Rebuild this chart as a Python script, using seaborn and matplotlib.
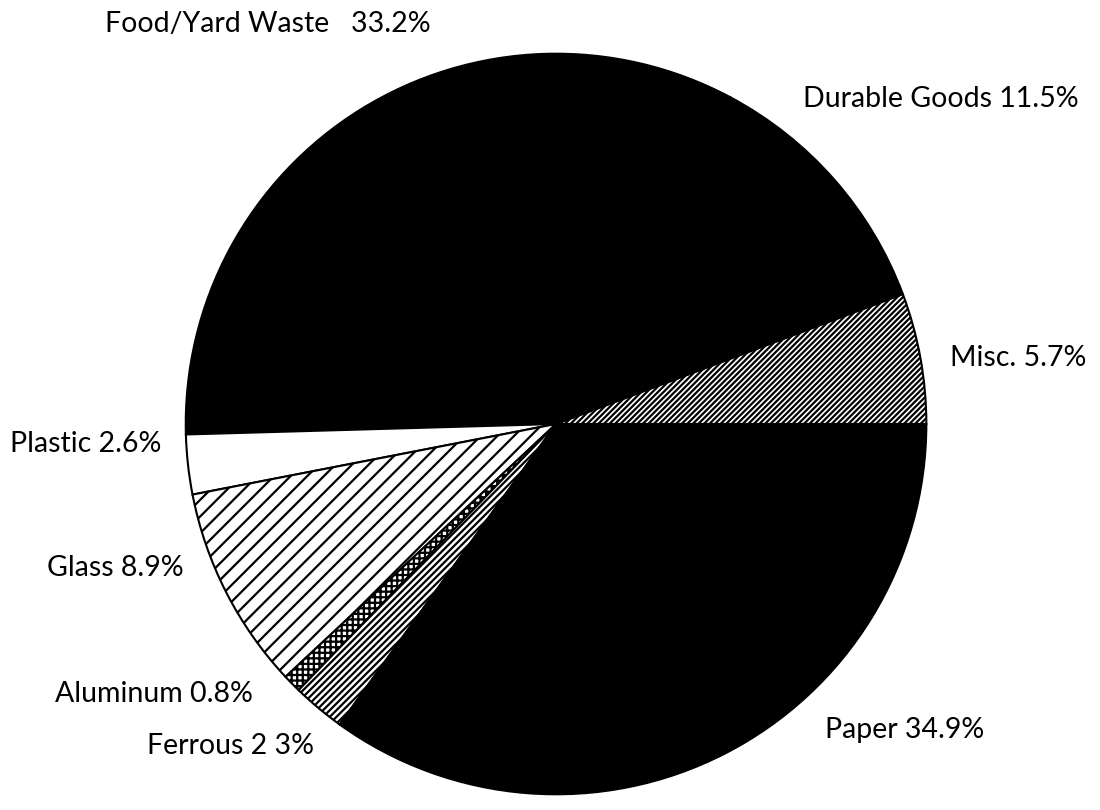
import matplotlib.pyplot as plt
import seaborn as sns

# municipal solid waste composition, counterclockwise from 3 o'clock
categories = ['Misc.', 'Durable Goods', 'Food/Yard Waste', 'Plastic', 'Glass',
              'Aluminum', 'Ferrous', 'Paper']
shares = [5.7, 11.5, 33.2, 2.6, 8.9, 0.8, 2.3, 34.9]
label_text = ['Misc. 5.7%', 'Durable Goods 11.5%', 'Food/Yard Waste   33.2%',
              'Plastic 2.6%', 'Glass 8.9%', 'Aluminum 0.8%', 'Ferrous 2 3%',
              'Paper 34.9%']

sns.set_theme(style='white')
plt.rcParams['font.family'] = ['Lato', 'DejaVu Sans']
plt.rcParams['hatch.linewidth'] = 1.6
plt.rcParams['hatch.color'] = 'black'

faces = ['white', 'black', 'black', 'white', 'white', 'white', 'white', 'black']
hatches = ['//////', None, None, None, '//', '+++', '/////', None]

fig = plt.figure(figsize=(11, 8.1), dpi=100)
ax = fig.add_axes([0.1655, 0.0148, 0.68, 0.9235])

wedges, _ = ax.pie(shares, startangle=0, counterclock=True, colors=faces,
                   radius=1.0,
                   wedgeprops=dict(edgecolor='black', linewidth=1.5))
for w, h in zip(wedges, hatches):
    if h:
        w.set_hatch(h)
ax.set_xlim(-1.01, 1.01)
ax.set_ylim(-1.01, 1.01)
ax.set_aspect('equal')
ax.axis('off')

# label anchors in figure pixels (left edge, baseline)
label_pos = {'Food/Yard Waste': (105, 32), 'Durable Goods': (803, 107),
             'Misc.': (950, 366), 'Plastic': (10, 452), 'Glass': (47, 576),
             'Aluminum': (55, 702), 'Ferrous': (147, 754), 'Paper': (825, 738)}
for cat, txt in zip(categories, label_text):
    px, py = label_pos[cat]
    fig.text(px / 1100, 1 - py / 810, txt, ha='left', va='baseline',
             fontsize=20.5, fontweight='normal', color='black')

fig.savefig('out.png', dpi=100, facecolor='white')
